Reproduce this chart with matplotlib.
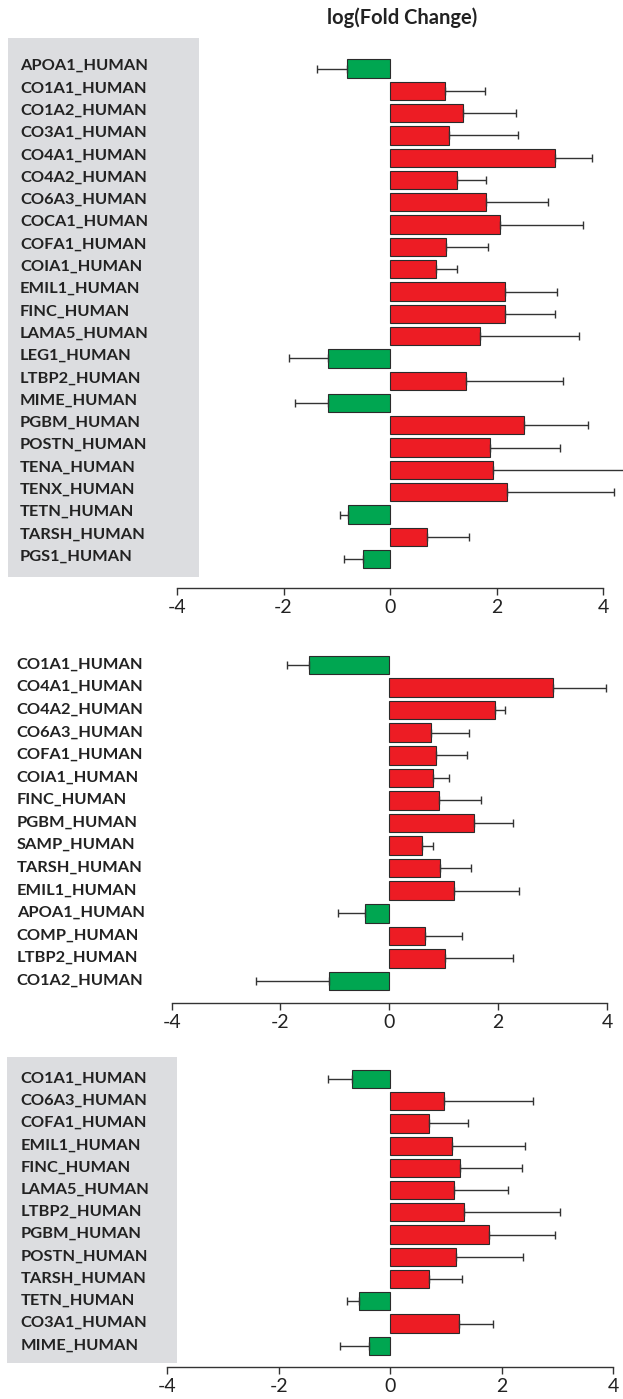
import numpy as np
import matplotlib
matplotlib.use('Agg')
import matplotlib.pyplot as plt
from matplotlib.patches import Rectangle
from matplotlib.transforms import ScaledTranslation

# panel 1
names1 = ['APOA1_HUMAN', 'CO1A1_HUMAN', 'CO1A2_HUMAN', 'CO3A1_HUMAN', 'CO4A1_HUMAN',
          'CO4A2_HUMAN', 'CO6A3_HUMAN', 'COCA1_HUMAN', 'COFA1_HUMAN', 'COIA1_HUMAN',
          'EMIL1_HUMAN', 'FINC_HUMAN', 'LAMA5_HUMAN', 'LEG1_HUMAN', 'LTBP2_HUMAN',
          'MIME_HUMAN', 'PGBM_HUMAN', 'POSTN_HUMAN', 'TENA_HUMAN', 'TENX_HUMAN',
          'TETN_HUMAN', 'TARSH_HUMAN', 'PGS1_HUMAN']
fc1 = [-0.81, 1.04, 1.37, 1.10, 3.09, 1.26, 1.81, 2.07, 1.06, 0.87, 2.16, 2.16,
       1.69, -1.16, 1.43, -1.16, 2.52, 1.87, 1.93, 2.19, -0.78, 0.70, -0.50]
err1 = [0.57, 0.74, 1.00, 1.31, 0.70, 0.55, 1.15, 1.56, 0.78, 0.39, 0.98, 0.94,
        1.86, 0.73, 1.82, 0.62, 1.20, 1.33, 2.70, 2.02, 0.15, 0.78, 0.36]

# panel 2
names2 = ['CO1A1_HUMAN', 'CO4A1_HUMAN', 'CO4A2_HUMAN', 'CO6A3_HUMAN', 'COFA1_HUMAN',
          'COIA1_HUMAN', 'FINC_HUMAN', 'PGBM_HUMAN', 'SAMP_HUMAN', 'TARSH_HUMAN',
          'EMIL1_HUMAN', 'APOA1_HUMAN', 'COMP_HUMAN', 'LTBP2_HUMAN', 'CO1A2_HUMAN']
fc2 = [-1.47, 3.00, 1.94, 0.77, 0.86, 0.80, 0.91, 1.56, 0.61, 0.94, 1.19, -0.45,
       0.66, 1.03, -1.11]
err2 = [0.41, 0.98, 0.18, 0.70, 0.56, 0.29, 0.78, 0.71, 0.19, 0.56, 1.20, 0.49,
        0.68, 1.25, 1.34]

# panel 3
names3 = ['CO1A1_HUMAN', 'CO6A3_HUMAN', 'COFA1_HUMAN', 'EMIL1_HUMAN', 'FINC_HUMAN',
          'LAMA5_HUMAN', 'LTBP2_HUMAN', 'PGBM_HUMAN', 'POSTN_HUMAN', 'TARSH_HUMAN',
          'TETN_HUMAN', 'CO3A1_HUMAN', 'MIME_HUMAN']
fc3 = [-0.68, 0.97, 0.70, 1.11, 1.25, 1.15, 1.33, 1.77, 1.18, 0.69, -0.56, 1.24, -0.38]
err3 = [0.43, 1.59, 0.69, 1.31, 1.11, 0.96, 1.72, 1.18, 1.20, 0.60, 0.22, 0.60, 0.52]

W, H = 623, 1399
RED = '#ed1c24'
GREEN = '#00a651'
GRAY_BOX = '#dcdde0'

plt.rcParams['font.family'] = ['Lato', 'DejaVu Sans']
plt.rcParams['axes.unicode_minus'] = False

fig = plt.figure(figsize=(W / 100, H / 100), dpi=100)


def grey_box(x0, y0, x1, y1):
    fig.add_artist(Rectangle((x0 / W, 1 - y1 / H), (x1 - x0) / W, (y1 - y0) / H,
                             transform=fig.transFigure, facecolor=GRAY_BOX,
                             edgecolor='none', zorder=0))


def panel(names, vals, errs, x_left, x_right, y_top, y_axis, row0, pitch, label_x, lift):
    ax = fig.add_axes([x_left / W, 1 - y_axis / H, (x_right - x_left) / W,
                       (y_axis - y_top) / H])
    ax.set_facecolor('none')
    n = len(names)
    y = np.arange(n)
    vals = np.array(vals)
    errs = np.array(errs)
    colors = [RED if v > 0 else GREEN for v in vals]
    ax.barh(y, vals, height=0.82, color=colors, edgecolor='#2b2b2b', linewidth=0.8,
            zorder=2)
    lo = np.where(vals < 0, errs, 0)
    hi = np.where(vals > 0, errs, 0)
    eb = ax.errorbar(vals, y, xerr=[lo, hi], fmt='none', ecolor='#333333',
                     elinewidth=1, capsize=3, capthick=1, zorder=3)
    for art in list(eb.lines[1]) + list(eb.lines[2]):
        art.set_clip_on(False)
    ax.set_xlim(-4, 4)
    ax.set_ylim((y_axis - row0) / pitch, (y_top - row0) / pitch)
    for s in ['left', 'top', 'right']:
        ax.spines[s].set_visible(False)
    ax.spines['bottom'].set_color('#333333')
    ax.spines['bottom'].set_linewidth(1)
    ax.set_xticks([-4, -2, 0, 2, 4])
    ax.tick_params(axis='x', length=5, width=1, color='#333333', labelsize=14,
                   pad=3, labelcolor='#222222')
    ax.set_yticks(y)
    ax.set_yticklabels(names, ha='left', fontweight='bold', fontsize=11.8,
                       color='#222222')
    ax.tick_params(axis='y', length=0, pad=(x_left - label_x) * 0.72)
    shift = ScaledTranslation(0, lift / 100, fig.dpi_scale_trans)
    for lab in ax.get_yticklabels():
        lab.set_transform(lab.get_transform() + shift)
    return ax


grey_box(8, 38, 199, 577)
grey_box(7, 1057, 177, 1363)

panel(names1, fc1, err1, 177, 603, 38, 588, 68.5, 22.3, 20, 4)
panel(names2, fc2, err2, 171.6, 607, 640, 1003.3, 665, 22.57, 16.7, 2)
panel(names3, fc3, err3, 167.3, 613, 1057, 1366.7, 1079, 22.23, 20.7, 2)

fig.text(402 / W, 1 - 18 / H, 'log(Fold Change)', ha='center', va='center',
         fontsize=14.5, fontweight='bold', color='#222222')

fig.savefig('out.png', dpi=100)
